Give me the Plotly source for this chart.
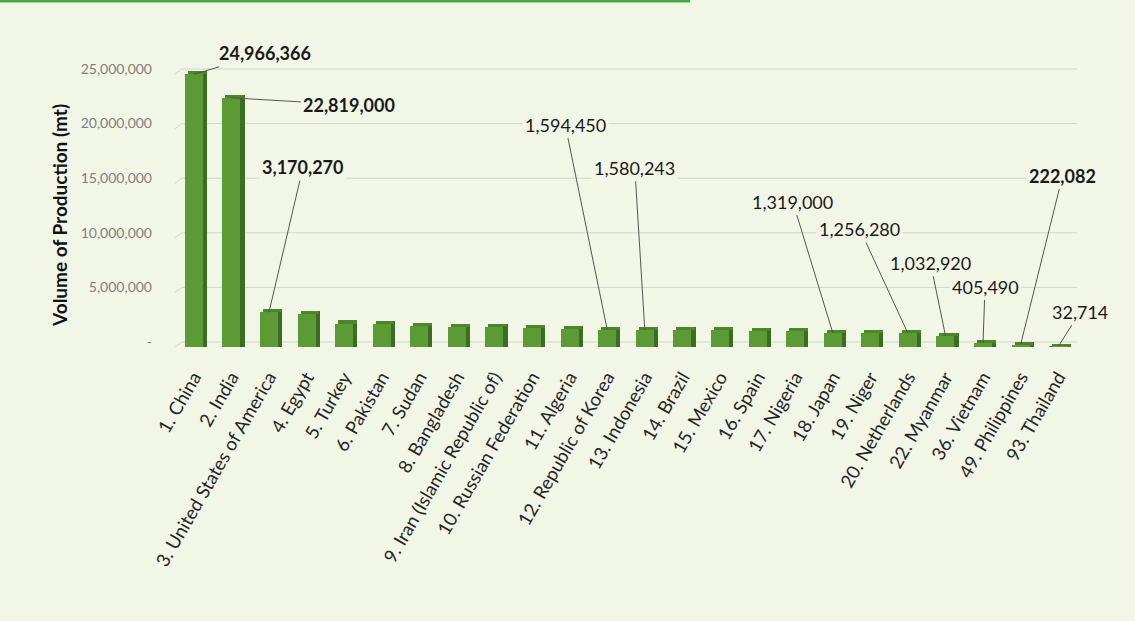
import plotly.graph_objects as go

# Top onion producing countries, volume of production (mt)
countries = [
    "1. China", "2. India", "3. United States of America", "4. Egypt", "5. Turkey",
    "6. Pakistan", "7. Sudan", "8. Bangladesh", "9. Iran (Islamic Republic of)",
    "10. Russian Federation", "11. Algeria", "12. Republic of Korea", "13. Indonesia",
    "14. Brazil", "15. Mexico", "16. Spain", "17. Nigeria", "18. Japan", "19. Niger",
    "20. Netherlands", "22. Myanmar", "36. Vietnam", "49. Philippines", "93. Thailand",
]
production = [
    24966366, 22819000, 3170270, 3000000, 2150000,
    2080000, 1950000, 1870000, 1850000,
    1740000, 1660000, 1594450, 1580243,
    1550000, 1530000, 1490000, 1420000, 1319000, 1300000,
    1256280, 1032920, 405490, 222082, 32714,
]

# Values that carry a call-out label, and which of them are set in bold
labelled = [0, 1, 2, 11, 12, 17, 19, 20, 21, 22, 23]
bold_labels = [0, 1, 2, 22]
# Call-out placement (pixel offsets of the label from the bar top)
callout_offsets = {
    0: (71, -21), 1: (118, 7), 2: (34, -145), 11: (-42, -205), 12: (-10, -162),
    17: (-40, -131), 19: (-48, -104), 20: (-15, -73), 21: (2, -56),
    22: (42, -169), 23: (22, -35),
}

y_ticks = [0, 5000000, 10000000, 15000000, 20000000, 25000000]
y_tick_text = ["-", "5,000,000", "10,000,000", "15,000,000", "20,000,000", "25,000,000"]

BG = "#F2F6E7"
FRONT = "#5B9A35"
SIDE = "#3C6E20"
TOP = "#4B8629"
FONT = "Lato, 'Open Sans', sans-serif"

depth = 280000  # pseudo-3D depth of the bars, in axis units
x_idx = list(range(len(countries)))

fig = go.Figure()

# right-hand side faces
fig.add_trace(go.Bar(
    x=x_idx, y=[v + depth for v in production], width=0.11, offset=0.24,
    marker=dict(color=SIDE, line=dict(width=0)), hoverinfo="skip", showlegend=False,
))
# top faces
fig.add_trace(go.Bar(
    x=x_idx, y=[depth] * len(production), base=production, width=0.5, offset=-0.16,
    marker=dict(color=TOP, line=dict(width=0)), hoverinfo="skip", showlegend=False,
))
# front faces
fig.add_trace(go.Bar(
    x=x_idx, y=production, width=0.48, offset=-0.24,
    marker=dict(color=FRONT, line=dict(width=0)),
    hovertext=countries, showlegend=False,
))

shapes = []
# back-wall gridlines with the short wall-edge diagonal on the left
for v in y_ticks:
    shapes.append(dict(
        type="line", layer="below", xref="x", yref="y",
        xsizemode="pixel", xanchor=-0.5, x0=7, x1=910,
        ysizemode="pixel", yanchor=v, y0=5, y1=5,
        line=dict(color="#D3D6CB", width=1),
    ))
    shapes.append(dict(
        type="line", layer="below", xref="x", yref="y",
        xsizemode="pixel", xanchor=-0.5, x0=-7, x1=7,
        ysizemode="pixel", yanchor=v, y0=-5, y1=5,
        line=dict(color="#D3D6CB", width=1),
    ))
# green rule along the top edge
shapes.append(dict(
    type="line", xref="paper", yref="paper",
    x0=-0.194, x1=0.571, y0=1.2056, y1=1.2056,
    line=dict(color="#45A947", width=3),
))

annotations = []
for i in labelled:
    ax, ay = callout_offsets[i]
    txt = f"{production[i]:,}"
    if i in bold_labels:
        txt = f"<b>{txt}</b>"
    annotations.append(dict(
        x=i, y=production[i], xref="x", yref="y",
        text=txt, showarrow=True, arrowhead=0, arrowwidth=1,
        arrowcolor="#555555", ax=ax, ay=ay, standoff=0,
        bgcolor=BG, borderpad=2,
        font=dict(family=FONT, size=18, color="#1A1A1A"),
    ))
annotations.append(dict(
    x=-0.1275, y=0.46, xref="paper", yref="paper", textangle=-90,
    xanchor="center", yanchor="middle",
    text="<b>Volume of Production (mt)</b>", showarrow=False,
    font=dict(family=FONT, size=19, color="#111111"),
))

fig.update_layout(
    width=1135, height=621,
    margin=dict(l=175, r=58, t=60, b=274),
    paper_bgcolor=BG, plot_bgcolor=BG,
    bargap=0, barmode="overlay",
    shapes=shapes, annotations=annotations,
    font=dict(family=FONT),
)
fig.update_xaxes(
    range=[-0.5, len(countries) - 0.5],
    tickmode="array", tickvals=x_idx, ticktext=countries,
    tickangle=-60, tickfont=dict(family=FONT, size=18.5, color="#262626"),
    ticklabelstandoff=15,
    showgrid=False, zeroline=False, showline=False, ticks="",
)
fig.update_yaxes(
    range=[0, 26280000],
    tickmode="array", tickvals=y_ticks, ticktext=y_tick_text,
    tickfont=dict(family=FONT, size=14, color="#808080"),
    ticklabelshift=-5, ticklabelstandoff=22,
    showgrid=False, zeroline=False, showline=False, ticks="",
)

fig.write_html("out.html")
